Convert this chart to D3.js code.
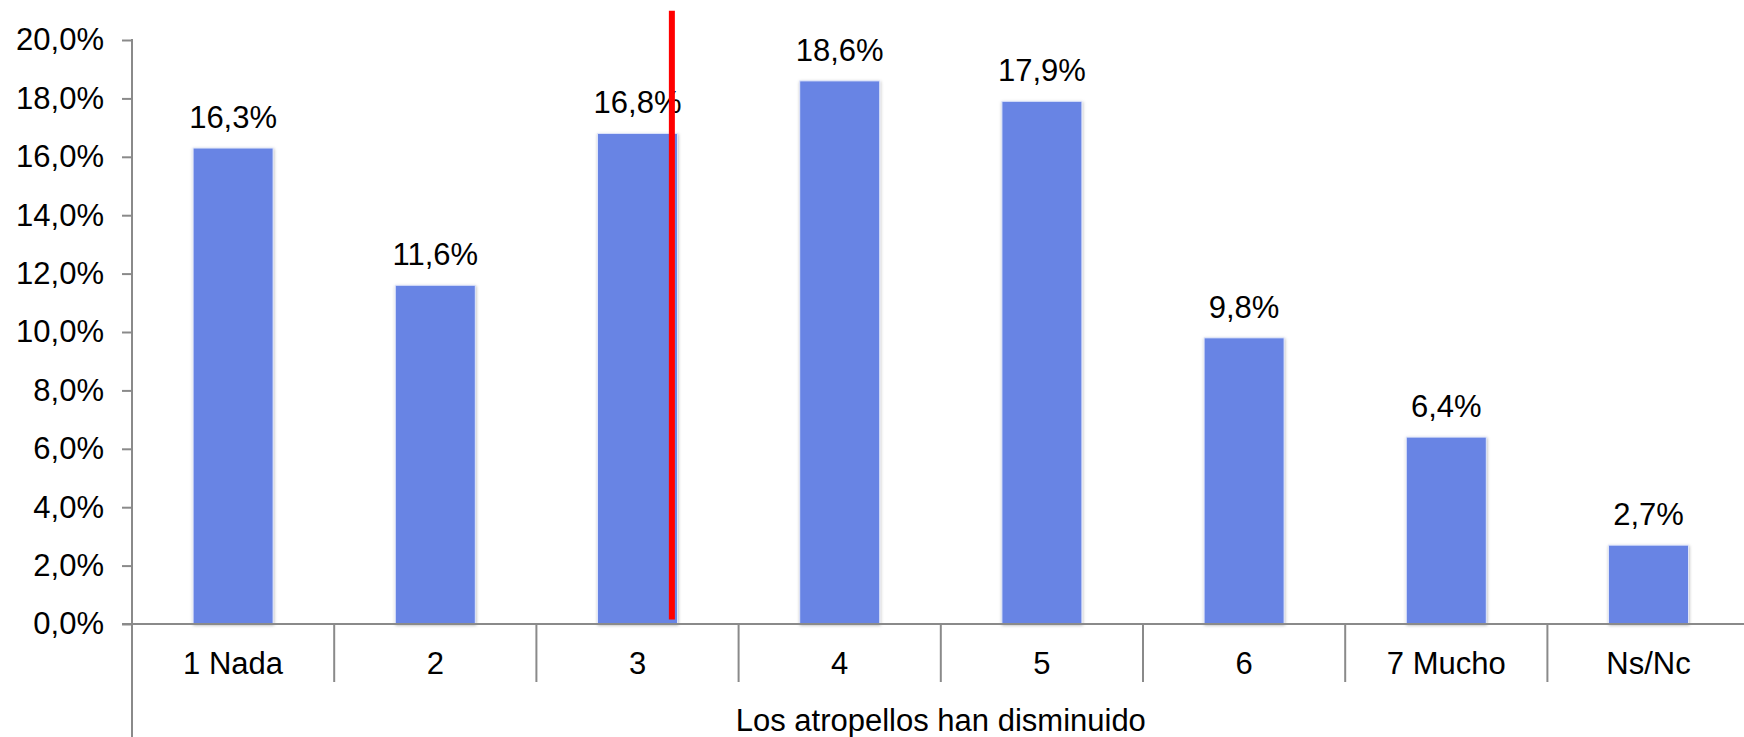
<!DOCTYPE html>
<html>
<head>
<meta charset="utf-8">
<script src="https://cdn.jsdelivr.net/npm/d3@7"></script>
<style>
  html, body { margin: 0; padding: 0; background: #fff; overflow: hidden; }
  svg { display: block; font-family: "Liberation Sans", Arial, sans-serif; }
</style>
</head>
<body>
<svg id="chart" width="1744" height="737"></svg>
<script>
const categories = ["1 Nada", "2", "3", "4", "5", "6", "7 Mucho", "Ns/Nc"];
const values = [16.3, 11.6, 16.8, 18.6, 17.9, 9.8, 6.4, 2.7];
const yTicks = [0, 2, 4, 6, 8, 10, 12, 14, 16, 18, 20];
const axisTitle = "Los atropellos han disminuido";
// red vertical marker: category, fractional position inside band, value range
const markerCategory = "3";
const markerBandFraction = 0.67;
const markerRange = [0.15, 21.0];

const fmt = v => v.toFixed(1).replace(".", ",") + "%";

const svg = d3.select("#chart");
const W = 1744, H = 737;
const left = 132, bandW = 202.2;
const y0 = 624, yTop = 40;

const x = d3.scaleBand().domain(categories).range([left, left + bandW * categories.length]).padding(0);
const y = d3.scaleLinear().domain([0, 20]).range([y0, yTop]);
const barW = 80;
const fontSize = 31;

const defs = svg.append("defs");
const f = defs.append("filter").attr("id", "shadow").attr("x", "-20%").attr("y", "-20%").attr("width", "140%").attr("height", "140%");
f.append("feDropShadow").attr("dx", 0.5).attr("dy", 1).attr("stdDeviation", 1.6)
  .attr("flood-color", "#000").attr("flood-opacity", 0.28);

// bars
svg.append("g").selectAll("rect").data(values).join("rect")
  .attr("x", (d, i) => x(categories[i]) + x.bandwidth() / 2 - barW / 2)
  .attr("y", d => y(d))
  .attr("width", barW)
  .attr("height", d => y0 - y(d))
  .attr("fill", "#6784e4")
  .attr("stroke", "#dfe5fa")
  .attr("stroke-width", 1)
  .attr("filter", "url(#shadow)");

// y axis
const yAxis = d3.axisLeft(y).tickValues(yTicks).tickSize(10).tickPadding(18).tickFormat(fmt);
const gy = svg.append("g").attr("transform", `translate(${left},0)`).call(yAxis);
gy.select(".domain").remove();
gy.selectAll(".tick line").attr("stroke", "#8a8a8a").attr("stroke-width", 2);
gy.selectAll(".tick text").attr("font-size", fontSize).attr("fill", "#000")
  .attr("font-family", "'Liberation Sans', Arial, sans-serif");
svg.append("line").attr("x1", left).attr("x2", left).attr("y1", yTop - 1).attr("y2", H)
  .attr("stroke", "#8a8a8a").attr("stroke-width", 2);

// x axis baseline
svg.append("line").attr("x1", left - 10).attr("x2", W).attr("y1", y0).attr("y2", y0)
  .attr("stroke", "#8a8a8a").attr("stroke-width", 2);

// category dividers
svg.append("g").selectAll("line").data(categories.slice(1)).join("line")
  .attr("x1", d => x(d)).attr("x2", d => x(d))
  .attr("y1", y0).attr("y2", y0 + 58)
  .attr("stroke", "#8a8a8a").attr("stroke-width", 2);

// category labels
svg.append("g").selectAll("text").data(categories).join("text")
  .attr("x", d => x(d) + x.bandwidth() / 2)
  .attr("y", 674)
  .attr("text-anchor", "middle")
  .attr("font-size", fontSize)
  .attr("fill", "#000")
  .text(d => d);

// data labels
svg.append("g").selectAll("text").data(values).join("text")
  .attr("x", (d, i) => x(categories[i]) + x.bandwidth() / 2)
  .attr("y", d => y(d) - 20)
  .attr("text-anchor", "middle")
  .attr("font-size", fontSize)
  .attr("fill", "#000")
  .text(d => fmt(d));

// axis title
svg.append("text")
  .attr("x", left + bandW * categories.length / 2)
  .attr("y", 731)
  .attr("text-anchor", "middle")
  .attr("font-size", fontSize)
  .attr("fill", "#000")
  .text(axisTitle);

// red marker line
const mx = x(markerCategory) + x.bandwidth() * markerBandFraction;
svg.append("line")
  .attr("x1", mx).attr("x2", mx)
  .attr("y1", y(markerRange[1])).attr("y2", y(markerRange[0]))
  .attr("stroke", "#ff0000").attr("stroke-width", 6);
</script>
</body>
</html>
